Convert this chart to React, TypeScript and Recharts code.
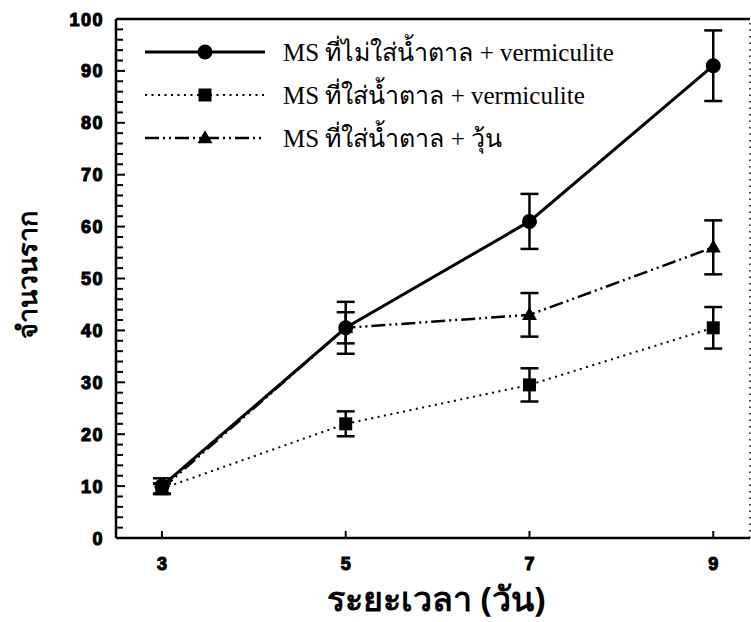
import { LineChart, Line, XAxis, YAxis, ErrorBar, ReferenceLine } from "recharts";

const days = [3, 5, 7, 9];
const noSugarVerm = [10, 40.5, 61, 91];
const noSugarVermErr = [1.5, 5, 5.3, 6.8];
const sugarVerm = [9.5, 22, 29.5, 40.5];
const sugarVermErr = [1, 2.4, 3.2, 4];
const sugarAgar = [9.5, 40.5, 43, 56];
const sugarAgarErr = [1, 3, 4.2, 5.2];

const xTicks = [3, 5, 7, 9];
const yTicks = [0, 2, 4, 6, 8, 10, 12, 14, 16, 18, 20, 22, 24, 26, 28, 30, 32, 34, 36, 38, 40, 42, 44, 46, 48, 50, 52, 54, 56, 58, 60, 62, 64, 66, 68, 70, 72, 74, 76, 78, 80, 82, 84, 86, 88, 90, 92, 94, 96, 98, 100];

const legendLabels = [
  "MS ที่ไม่ใส่น้ำตาล + vermiculite",
  "MS ที่ใส่น้ำตาล + vermiculite",
  "MS ที่ใส่น้ำตาล + วุ้น",
];

const data = days.map((d, i) => ({
  day: d,
  a: noSugarVerm[i],
  aErr: noSugarVermErr[i],
  b: sugarVerm[i],
  bErr: sugarVermErr[i],
  c: sugarAgar[i],
  cErr: sugarAgarErr[i],
}));

const AXIS_LEFT = 116;
const AXIS_BOTTOM = 538;
const TICK_FONT = "'Liberation Sans', Arial, sans-serif";
const THAI_FONT = "'Noto Sans', 'DejaVu Sans', sans-serif";
const SERIF = "'Liberation Serif', 'Times New Roman', serif";

const DASH = {
  a: undefined,
  b: "2 4.5",
  c: "14 4 2 4 2 4",
};

function Circle({ cx, cy, r = 7.5 }: any) {
  return <circle cx={cx} cy={cy} r={r} fill="#000" />;
}
function Square({ cx, cy, s = 13 }: any) {
  return <rect x={cx - s / 2} y={cy - s / 2} width={s} height={s} fill="#000" />;
}
function Triangle({ cx, cy, s = 15 }: any) {
  const h = s * 0.87;
  return <polygon points={`${cx},${cy - h * 0.6} ${cx - s / 2},${cy + h * 0.4} ${cx + s / 2},${cy + h * 0.4}`} fill="#000" />;
}

const markers = [Circle, Square, Triangle];
const dashes = [DASH.a, DASH.b, DASH.c];
const widths = [3, 2, 2.5];

function XTick({ x, payload }: any) {
  return (
    <g>
      <line x1={x} y1={AXIS_BOTTOM} x2={x} y2={AXIS_BOTTOM - 7} stroke="#000" strokeWidth={2} />
      <text x={x} y={570} textAnchor="middle" fontFamily={TICK_FONT} fontWeight="bold" fontSize={18} stroke="#000" strokeWidth={1.1} fill="#000">
        {payload.value}
      </text>
    </g>
  );
}

function YTick({ y, payload }: any) {
  const major = payload.value % 10 === 0;
  return (
    <g>
      <line x1={AXIS_LEFT} y1={y} x2={AXIS_LEFT + (major ? 9 : 7)} y2={y} stroke="#000" strokeWidth={2} />
      {major && (
        <text x={104} y={y + 6.5} textAnchor="end" fontFamily={TICK_FONT} fontWeight="bold" fontSize={18} letterSpacing={1.5} stroke="#000" strokeWidth={1.1} fill="#000">
          {payload.value}
        </text>
      )}
    </g>
  );
}

function YLabel() {
  return (
    <text x={37} y={275} transform="rotate(-90 37 275)" textAnchor="middle" fontFamily={THAI_FONT} fontWeight="bold" fontSize={27} fill="#000">
      จำนวนราก
    </text>
  );
}

function XLabel() {
  return (
    <text x={436} y={611} textAnchor="middle" fontFamily={THAI_FONT} fontWeight="bold" fontSize={34} fill="#000">
      ระยะเวลา (วัน)
    </text>
  );
}

function ChartLegend() {
  return (
    <div style={{ position: "absolute", left: 143, top: 30, fontFamily: SERIF, fontSize: 25, color: "#000", pointerEvents: "none" }}>
      {legendLabels.map((label, i) => {
        const M = markers[i];
        return (
          <div key={label} style={{ display: "flex", alignItems: "center", height: 43, whiteSpace: "nowrap" }}>
            <svg width={124} height={20}>
              <line x1={2} y1={10} x2={122} y2={10} stroke="#000" strokeWidth={widths[i]} strokeDasharray={dashes[i]} />
              <M cx={62} cy={10} />
            </svg>
            <span style={{ marginLeft: 16 }}>{label}</span>
          </div>
        );
      })}
    </div>
  );
}

export default function App() {
  return (
    <div style={{ position: "absolute", left: 0, top: 0, width: 751, height: 622, background: "#fff" }}>
      <LineChart width={751} height={622} data={data} margin={{ top: 19, right: 1, left: 0, bottom: 0 }}>
        <XAxis
          dataKey="day"
          type="number"
          domain={[2.5, 9.4]}
          allowDataOverflow
          ticks={xTicks}
          height={84}
          axisLine={{ stroke: "#000", strokeWidth: 2.5 }}
          tickLine={false}
          tick={<XTick />}
          label={<XLabel />}
        />
        <YAxis
          type="number"
          domain={[0, 100]}
          ticks={yTicks}
          interval={0}
          width={AXIS_LEFT}
          axisLine={{ stroke: "#000", strokeWidth: 2.5 }}
          tickLine={false}
          tick={<YTick />}
          label={<YLabel />}
        />
        <ReferenceLine y={100} stroke="#000" strokeWidth={2.5} />
        <ReferenceLine x={9.4} stroke="#000" strokeWidth={1.5} strokeDasharray="1.5 5" />
        <Line dataKey="b" stroke="#000" strokeWidth={2} strokeDasharray={DASH.b} isAnimationActive={false}
          dot={(p: any) => <Square key={`b${p.index}`} cx={p.cx} cy={p.cy} />} activeDot={false}>
          <ErrorBar dataKey="bErr" direction="y" width={9} stroke="#000" strokeWidth={2.5} />
        </Line>
        <Line dataKey="c" stroke="#000" strokeWidth={2.5} strokeDasharray={DASH.c} isAnimationActive={false}
          dot={(p: any) => <Triangle key={`c${p.index}`} cx={p.cx} cy={p.cy} />} activeDot={false}>
          <ErrorBar dataKey="cErr" direction="y" width={9} stroke="#000" strokeWidth={2.5} />
        </Line>
        <Line dataKey="a" stroke="#000" strokeWidth={3} isAnimationActive={false}
          dot={(p: any) => <Circle key={`a${p.index}`} cx={p.cx} cy={p.cy} />} activeDot={false}>
          <ErrorBar dataKey="aErr" direction="y" width={9} stroke="#000" strokeWidth={2.5} />
        </Line>
      </LineChart>
      <ChartLegend />
    </div>
  );
}
